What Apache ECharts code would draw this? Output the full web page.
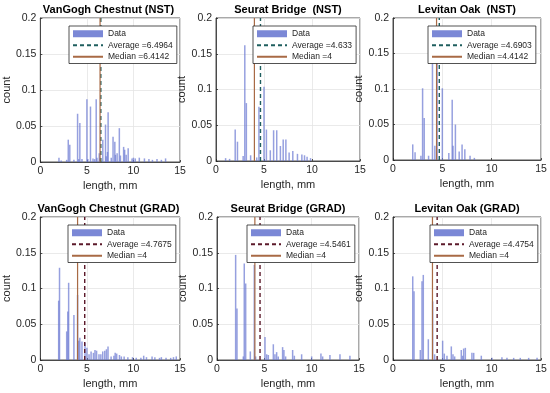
<!DOCTYPE html>
<html><head><meta charset="utf-8">
<script src="https://cdn.jsdelivr.net/npm/echarts@6/dist/echarts.min.js"></script>
<style>html,body{margin:0;padding:0;background:#fff}#c{width:550px;height:393px}</style>
</head><body><div id="c"></div>
<script>
const titles = ['VanGogh Chestnut (NST)', 'Seurat Bridge  (NST)', 'Levitan Oak  (NST)',
                'VanGogh Chestnut (GRAD)', 'Seurat Bridge (GRAD)', 'Levitan Oak (GRAD)'];
const averages = [6.4964, 4.633, 4.6903, 4.7675, 4.5461, 4.4754];
const medians = [6.4142, 4, 4.4142, 4, 4, 4];
const xTicks = [0, 5, 10, 15];
const yTicks = [0, 0.05, 0.1, 0.15, 0.2];

const len1 = [2, 2.236, 2.828, 3, 3.162, 3.606, 4, 4.123, 4.243, 4.472, 5, 5.099, 5.385, 5.657, 5.831, 6, 6.083, 6.325, 6.403, 6.708, 7, 7.071, 7.211, 7.28, 7.616, 7.81, 8, 8.062, 8.246, 8.485, 8.602, 8.944, 9.055, 9.22, 9.434, 9.849, 10, 10.198, 10.63, 11.18, 11.662, 12.04, 12.53, 13, 13.45];
const cnt1 = [0.006, 0.002, 0.003, 0.031, 0.024, 0.003, 0.067, 0.004, 0.054, 0.004, 0.087, 0.004, 0.077, 0.005, 0.004, 0.087, 0.006, 0.012, 0.005, 0.031, 0.052, 0.008, 0.014, 0.069, 0.006, 0.035, 0.028, 0.01, 0.012, 0.047, 0.009, 0.021, 0.017, 0.01, 0.019, 0.005, 0.006, 0.005, 0.006, 0.005, 0.004, 0.003, 0.004, 0.003, 0.005];

const len2 = [1, 1.414, 2, 2.236, 2.828, 3, 3.162, 3.606, 4.243, 4.472, 5, 5.25, 5.657, 6, 6.325, 6.708, 7, 7.28, 7.616, 8, 8.485, 8.944, 9.22, 9.487, 9.849];
const cnt2 = [0.004, 0.003, 0.044, 0.027, 0.007, 0.162, 0.081, 0.008, 0.005, 0.076, 0.104, 0.044, 0.015, 0.043, 0.043, 0.021, 0.03, 0.03, 0.012, 0.014, 0.01, 0.009, 0.008, 0.006, 0.004];

const len3 = [2, 2.236, 2.828, 3, 3.162, 3.606, 4, 4.243, 4.472, 5, 5.657, 6, 6.083, 6.325, 6.708, 7, 7.28, 7.81, 8.246];
const cnt3 = [0.022, 0.011, 0.006, 0.101, 0.059, 0.006, 0.17, 0.02, 0.155, 0.101, 0.01, 0.085, 0.02, 0.05, 0.012, 0.022, 0.015, 0.006, 0.003];

const len4 = [1.97, 2.06, 2.83, 2.95, 3.04, 3.606, 4, 4.123, 4.243, 4.472, 4.8, 5, 5.23, 5.45, 5.7, 5.87, 6.04, 6.3, 6.5, 6.7, 6.92, 7.1, 7.27, 7.6, 7.9, 8.04, 8.2, 8.5, 8.7, 9, 9.4, 9.9, 10.3, 10.8, 11.1, 11.4, 12, 12.3, 12.8, 13, 13.5, 14, 14.3, 14.6];
const cnt4 = [0.083, 0.129, 0.04, 0.068, 0.108, 0.063, 0.091, 0.027, 0.031, 0.026, 0.024, 0.017, 0.008, 0.012, 0.01, 0.014, 0.013, 0.008, 0.008, 0.012, 0.013, 0.015, 0.019, 0.005, 0.006, 0.01, 0.009, 0.007, 0.005, 0.005, 0.004, 0.004, 0.003, 0.003, 0.006, 0.004, 0.005, 0.004, 0.003, 0.004, 0.003, 0.003, 0.004, 0.005];

const len5 = [1.97, 2.11, 2.78, 2.88, 3.03, 3.52, 3.94, 4.08, 5.07, 5.25, 5.42, 5.95, 6.12, 6.3, 6.47, 6.93, 7.07, 7.25, 7.99, 8.17, 8.94, 10, 10.98, 11.16, 11.93, 12.99, 14.04];
const cnt5 = [0.147, 0.072, 0.005, 0.135, 0.107, 0.012, 0.133, 0.005, 0.032, 0.008, 0.007, 0.022, 0.008, 0.011, 0.005, 0.018, 0.014, 0.005, 0.014, 0.006, 0.008, 0.005, 0.009, 0.005, 0.007, 0.008, 0.006];

const len6 = [2, 2.13, 2.77, 2.94, 3.07, 3.58, 4.02, 4.22, 5.03, 5.2, 5.47, 5.91, 6.08, 6.25, 6.92, 7.06, 7.16, 7.33, 8, 8.18, 8.95, 10.03, 11.04, 11.55, 12.23, 12.9, 13.75, 14.6];
const cnt6 = [0.117, 0.096, 0.014, 0.11, 0.119, 0.029, 0.082, 0.008, 0.027, 0.009, 0.006, 0.019, 0.008, 0.005, 0.014, 0.006, 0.016, 0.017, 0.01, 0.01, 0.006, 0.003, 0.004, 0.003, 0.003, 0.003, 0.003, 0.003];

const lens = [len1, len2, len3, len4, len5, len6];
const cnts = [cnt1, cnt2, cnt3, cnt4, cnt5, cnt6];

const grids = [
  {left: 37, top: 18, width: 143, height: 144},
  {left: 216, top: 18, width: 144, height: 143},
  {left: 393, top: 18, width: 148, height: 142},
  {left: 37, top: 217, width: 143, height: 143},
  {left: 217, top: 217, width: 142, height: 143},
  {left: 393, top: 217, width: 148, height: 143}
];
const legendPos = [[69, 26], [253, 26], [428, 26], [68, 225], [247, 225], [430, 225]];
const yNameGap = [27, 27, 24, 27, 27, 24];
const avgColors = ['#1f5f5f', '#1f5f5f', '#1f5f5f', '#5c1a2b', '#5c1a2b', '#5c1a2b'];
const medColor = '#a86a45';
const barColor = 'rgba(105,120,210,0.7)';
const legendPatch = '#7b88d6';
const ink = '#262626';
const FONT = '"Liberation Sans", Arial, Helvetica, sans-serif';
const yMin = yTicks[0], yMax = yTicks[yTicks.length - 1];

const option = {
  animation: false,
  textStyle: {fontFamily: FONT},
  title: [], grid: [], xAxis: [], yAxis: [], legend: [], series: []
};

for (let i = 0; i < 6; i++) {
  const g = grids[i];
  option.grid.push(Object.assign({show: true, borderColor: ink, borderWidth: 0.8, containLabel: false}, g));
  option.title.push({
    text: titles[i], left: g.left + g.width / 2, top: g.top - 14, textAlign: 'center', padding: 0,
    textStyle: {fontSize: 11, fontWeight: 'bold', color: '#000', fontFamily: FONT}
  });
  option.xAxis.push({
    gridIndex: i, type: 'value', min: xTicks[0], max: xTicks[xTicks.length - 1], interval: xTicks[1] - xTicks[0],
    name: 'length, mm', nameLocation: 'middle', nameGap: 18,
    nameTextStyle: {fontSize: 11, color: ink, fontFamily: FONT},
    axisLine: {show: true, lineStyle: {color: ink, width: 0.8}},
    axisTick: {show: true, inside: true, length: 2, lineStyle: {color: ink, width: 0.8}},
    axisLabel: {fontSize: 10.5, color: ink, margin: 4, fontFamily: FONT},
    splitLine: {show: true, lineStyle: {color: '#e4e4e4', width: 0.8}}
  });
  option.yAxis.push({
    gridIndex: i, type: 'value', min: yMin, max: yMax, interval: yTicks[1] - yTicks[0],
    name: 'count', nameLocation: 'middle', nameGap: yNameGap[i], nameRotate: 90,
    nameTextStyle: {fontSize: 11, color: ink, fontFamily: FONT},
    axisLine: {show: true, lineStyle: {color: ink, width: 0.8}},
    axisTick: {show: true, inside: true, length: 2, lineStyle: {color: ink, width: 0.8}},
    axisLabel: {fontSize: 10.5, color: ink, margin: 4, fontFamily: FONT},
    splitLine: {show: true, lineStyle: {color: '#e4e4e4', width: 0.8}}
  });
  const avgName = 'Average =' + averages[i];
  const medName = 'Median =' + medians[i];
  option.series.push({
    type: 'bar', name: 'Data', xAxisIndex: i, yAxisIndex: i,
    data: lens[i].map((x, j) => [x, cnts[i][j]]),
    barWidth: 1.5, itemStyle: {color: barColor}, z: 2
  });
  option.series.push({
    type: 'line', name: avgName, xAxisIndex: i, yAxisIndex: i,
    data: [[averages[i], yMin], [averages[i], yMax]], symbol: 'none',
    lineStyle: {color: avgColors[i], width: 1.4, type: [4, 3]}, itemStyle: {color: avgColors[i]}, z: 3
  });
  option.series.push({
    type: 'line', name: medName, xAxisIndex: i, yAxisIndex: i,
    data: [[medians[i], yMin], [medians[i], yMax]], symbol: 'none',
    lineStyle: {color: medColor, width: 1.2}, itemStyle: {color: medColor}, z: 3
  });
  option.legend.push({
    left: legendPos[i][0], top: legendPos[i][1], orient: 'vertical',
    data: [
      {name: 'Data', icon: 'rect', itemStyle: {color: legendPatch}},
      {name: avgName, itemStyle: {opacity: 0}},
      {name: medName, itemStyle: {opacity: 0}}
    ],
    selectedMode: false,
    backgroundColor: '#fff', borderColor: ink, borderWidth: 0.8,
    padding: [2, 4, 1, 3], itemGap: 0, itemWidth: 30, itemHeight: 7,
    textStyle: {fontSize: 8.5, color: ink, lineHeight: 11.5, fontFamily: FONT}
  });
}

const chart = echarts.init(document.getElementById('c'), null, {renderer: 'canvas'});
chart.setOption(option);
</script>
</body></html>
